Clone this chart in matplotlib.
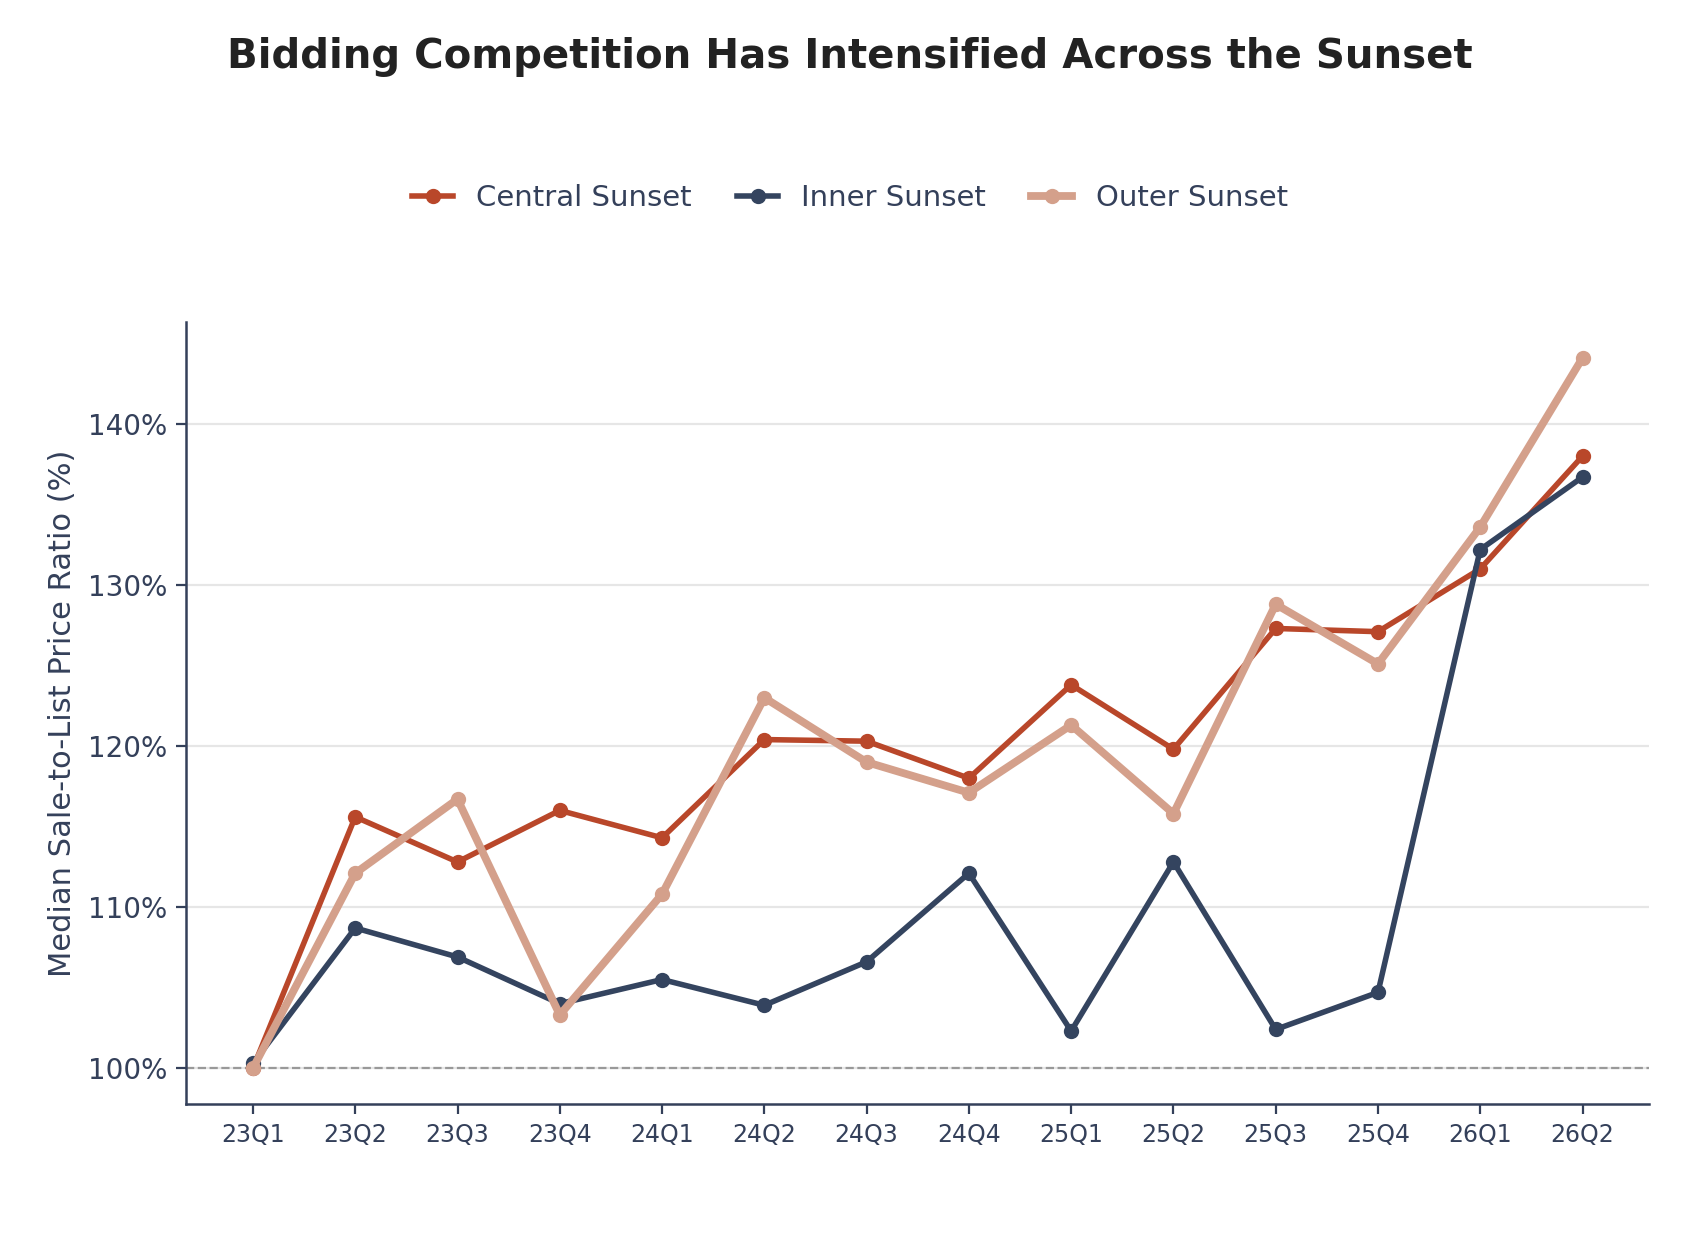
import numpy as np
import matplotlib
matplotlib.use('Agg')
import matplotlib.pyplot as plt
from matplotlib.ticker import FuncFormatter

quarters = ['23Q1', '23Q2', '23Q3', '23Q4', '24Q1', '24Q2', '24Q3',
            '24Q4', '25Q1', '25Q2', '25Q3', '25Q4', '26Q1', '26Q2']

central = [100.0, 115.6, 112.8, 116.0, 114.3, 120.4, 120.3,
           118.0, 123.8, 119.8, 127.3, 127.1, 131.0, 138.0]
inner = [100.3, 108.7, 106.9, 104.0, 105.5, 103.9, 106.6,
         112.1, 102.3, 112.8, 102.4, 104.7, 132.2, 136.7]
outer = [100.0, 112.1, 116.7, 103.3, 110.8, 123.0, 119.0,
         117.1, 121.3, 115.8, 128.8, 125.1, 133.6, 144.1]

text_col = '#34405a'
c_central = '#b9472a'
c_inner = '#34445f'
c_outer = '#d4a08b'

plt.rcParams['font.family'] = ['DejaVu Sans']

fig = plt.figure(figsize=(8.5, 6.2), dpi=200)
ax = fig.add_axes([0.1097, 0.110, 0.8603, 0.630])

x = np.arange(len(quarters))
ax.plot(x, central, color=c_central, lw=2.0, marker='o', ms=4.5, label='Central Sunset', zorder=3)
ax.plot(x, inner, color=c_inner, lw=2.0, marker='o', ms=4.5, label='Inner Sunset', zorder=3)
ax.plot(x, outer, color=c_outer, lw=2.8, marker='o', ms=4.5, label='Outer Sunset', zorder=4)

ax.axhline(100, color='#999999', lw=0.8, ls='--', zorder=1)
ax.yaxis.grid(True, color='#e6e6e6', lw=0.8)
ax.set_axisbelow(True)

ax.set_xticks(x)
ax.set_xticklabels(quarters, fontsize=8.5, color=text_col)
ax.set_yticks([100, 110, 120, 130, 140])
ax.yaxis.set_major_formatter(FuncFormatter(lambda v, p: '%d%%' % v))
ax.tick_params(axis='y', labelsize=10, colors=text_col)
ax.tick_params(axis='x', colors=text_col)
ax.set_ylabel('Median Sale-to-List Price Ratio (%)', fontsize=11, color=text_col)

for s in ['top', 'right']:
    ax.spines[s].set_visible(False)
for s in ['left', 'bottom']:
    ax.spines[s].set_color(text_col)
    ax.spines[s].set_linewidth(0.9)

fig.suptitle('Bidding Competition Has Intensified Across the Sunset',
             fontsize=14.5, fontweight='bold', color='#222222', y=0.97)
leg = fig.legend(loc='center', bbox_to_anchor=(0.5, 0.84), ncol=3, frameon=False,
                 fontsize=10.5, handlelength=1.4, columnspacing=1.55)
for t in leg.get_texts():
    t.set_color(text_col)

fig.savefig('out.png', dpi=200)
